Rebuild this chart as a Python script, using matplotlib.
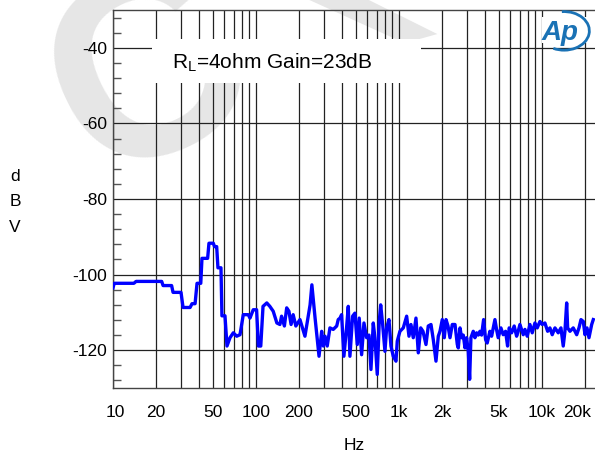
import numpy as np
import matplotlib
matplotlib.use('Agg')
import matplotlib.pyplot as plt
from matplotlib.ticker import FixedLocator, MultipleLocator, NullFormatter, LogLocator
from matplotlib.patches import Rectangle, Polygon, Arc
from matplotlib.transforms import ScaledTranslation

plt.rcParams['font.family'] = ['Liberation Sans', 'DejaVu Sans']
plt.rcParams['axes.unicode_minus'] = False

# noise spectrum (Hz, dBV)
freq = [10.0, 10.2, 14.0, 14.5, 21.9, 22.4, 25.7, 26.3, 29.9, 30.9, 34.6, 35.7, 37.5, 38.7,
        41.1, 41.9, 45.9, 46.9, 50.3, 51.3, 53.1, 54.2, 56.9, 57.8, 60.7, 62.7,
        65.8, 69.4, 73.3, 77.3, 81.5, 88.3, 90.8, 95.7, 101, 104, 108, 112, 119, 125,
        132, 140, 147, 151, 158, 164, 170, 176, 182, 190, 203, 220, 239, 246, 259,
        276, 288, 296, 304, 315, 329, 347, 367, 376, 387, 397, 412,
        430, 442, 454, 474, 492, 511, 527, 548, 569, 594, 617, 637, 661, 679, 705,
        728, 745, 769, 798, 820, 851, 879, 912, 953, 973, 1016, 1072, 1132, 1175,
        1213, 1259, 1315, 1365, 1419, 1472, 1545, 1603, 1675, 1738, 1815, 1884,
        1936, 2009, 2075, 2133, 2203, 2275, 2360, 2466, 2559,
        2600, 2673, 2742, 2817, 2896, 2972, 3053, 3121, 3186, 3308, 3399, 3492,
        3589, 3684, 3784, 3908, 4036, 4142, 4325, 4446, 4563, 4690, 4819, 4945,
        5164, 5357, 5567, 5750, 5902, 6136, 6396, 6650, 6823, 7015, 7401, 7605,
        7891, 8241, 8551, 8933, 9268, 9681, 10046, 10490, 10960, 11370, 11800,
        12330, 13000, 13580, 14090, 14480, 14890, 15130, 15700, 16560, 17500,
        18160, 18750, 19460, 20000, 20650, 21330, 22280, 22860]
level = [-103.5, -102.3, -102.3, -101.8, -101.8, -102.9, -102.9, -104.7, -104.7, -108.7,
         -108.7, -107.7, -107.7, -102.3, -102.3, -95.7, -95.7, -91.7, -91.7, -92.6,
         -92.6, -98.2, -98.2, -110.9, -110.9, -118.9,
         -116.7, -115.4, -116.3, -115.9, -110.6, -110.6, -111.5, -109.3, -109.3, -118.9,
         -118.9, -108.4, -107.5, -108.4, -109.7, -112.8, -113.2, -111.0, -113.6, -108.8,
         -109.7, -113.2, -110.6, -113.6, -111.9, -116.3, -108.0, -102.7, -111.5,
         -121.6, -115.0, -118.9, -116.3, -118.9, -114.1, -114.5, -113.6, -111.9, -111.5,
         -110.6, -121.6,
         -114.1, -108.4, -121.6, -111.0, -110.2, -118.5, -111.5, -121.2, -112.8, -116.7,
         -116.0, -125.1, -112.8, -116.7, -126.4, -112.4, -108.0, -113.2, -120.3, -114.1,
         -111.9, -118.9, -121.6, -122.9, -117.6, -115.0, -114.1, -111.0, -116.3,
         -113.2, -116.7, -111.5, -120.7, -114.1, -115.0, -118.5, -113.6, -113.2, -117.2,
         -122.9, -116.3, -115.0, -111.9, -116.7, -111.9, -113.6, -116.7, -113.2, -113.2,
         -118.5,
         -119.4, -114.1, -116.7, -116.0, -119.4, -116.7, -120.3, -127.7, -116.7, -115.0,
         -116.7, -115.4, -116.0, -115.0, -116.0, -111.9, -117.2, -118.1, -115.0, -116.3,
         -114.1, -111.9, -114.6, -116.7, -114.1, -115.9, -115.0, -118.9, -114.1, -115.4,
         -113.6, -116.3, -115.0, -113.2, -115.9, -114.5, -116.3, -113.2, -115.4, -112.8,
         -114.1, -112.4, -113.2, -112.8, -115.0, -114.1, -115.9, -114.1, -115.4, -114.1,
         -118.9, -115.0, -107.5, -114.1, -115.0, -114.1, -115.9, -114.1, -111.9, -112.4,
         -115.9, -114.1, -116.7, -113.2, -111.9]

xticks = [10, 20, 50, 100, 200, 500, 1000, 2000, 5000, 10000, 20000]
xlabels = ['10', '20', '50', '100', '200', '500', '1k', '2k', '5k', '10k', '20k']
yticks = [-120, -100, -80, -60, -40]

fig = plt.figure(figsize=(5.95, 4.54), dpi=100)

# watermark behind everything
fig.text(0.255, 0.822, 'C', fontsize=190, color='#e6e6e6', fontweight='bold',
         ha='center', va='center', rotation=26, rotation_mode='anchor', zorder=-5)
fig.patches.append(Polygon([[0.52, 1.0], [0.62, 1.0], [0.735, 0.925], [0.68, 0.905]],
                           closed=True, transform=fig.transFigure,
                           facecolor='#e6e6e6', edgecolor='none', zorder=-5))

ax = fig.add_axes([113/595, 66/454, 482/595, 378/454])
ax.patch.set_alpha(0)

ax.plot(freq, level, color='#0000ff', linewidth=2.4, zorder=3)

ax.set_xscale('log')
ax.set_xlim(10, 23500)
ax.set_ylim(-130, -30)

ax.xaxis.set_major_locator(FixedLocator(xticks))
ax.set_xticklabels(xlabels)
ax.xaxis.set_minor_locator(LogLocator(base=10, subs=np.arange(2, 10)))
ax.xaxis.set_minor_formatter(NullFormatter())
ax.set_yticks(yticks)
ax.yaxis.set_minor_locator(MultipleLocator(4))

ax.tick_params(axis='x', which='both', length=0, pad=12, labelsize=12.5)
ax.tick_params(axis='y', which='major', length=0, pad=4, labelsize=12.5)
ax.tick_params(axis='y', which='minor', direction='in', length=6, width=1, color='#555555')

# nudge end labels inside like the analyzer does
labs = ax.get_xticklabels()
labs[0].set_transform(labs[0].get_transform() + ScaledTranslation(2/100, 0, fig.dpi_scale_trans))
labs[-1].set_transform(labs[-1].get_transform() + ScaledTranslation(-8/100, 0, fig.dpi_scale_trans))

ax.grid(True, which='major', axis='both', color='#222222', linewidth=0.9)
ax.grid(True, which='minor', axis='x', color='#222222', linewidth=0.9)
for side in ['top', 'bottom', 'left']:
    ax.spines[side].set_color('#444444')
    ax.spines[side].set_linewidth(1)
ax.spines['right'].set_visible(False)

# white label box
ax.add_patch(Rectangle((0.081, 0.807), 0.558, 0.116, transform=ax.transAxes,
                       facecolor='white', edgecolor='none', zorder=4))
ax.text(0.331, 0.860, 'R$_\\mathregular{L}$=4ohm Gain=23dB', transform=ax.transAxes,
        fontsize=15, ha='center', va='center', zorder=5)

# AP logo
ax.add_patch(Rectangle((0.89, 0.913), 0.1, 0.069, transform=ax.transAxes,
                       facecolor='white', edgecolor='none', zorder=4))
fig.text(0.941, 0.928, 'Ap', fontsize=20, color='#1a72b5', fontweight='bold',
         fontstyle='italic', ha='center', va='center', zorder=6)
fig.patches.append(Arc((0.948, 0.932), 0.085, 0.085, theta1=-115, theta2=95,
                       transform=fig.transFigure, color='#1a72b5', linewidth=2, zorder=6))

fig.text(15/595, 1 - 202/454, 'd\nB\nV', fontsize=12.5, ha='center', va='center',
         linespacing=1.85)
fig.text(354/595, 1 - 445/454, 'Hz', fontsize=12.5, ha='center', va='center')

plt.savefig('out.png', dpi=100)
